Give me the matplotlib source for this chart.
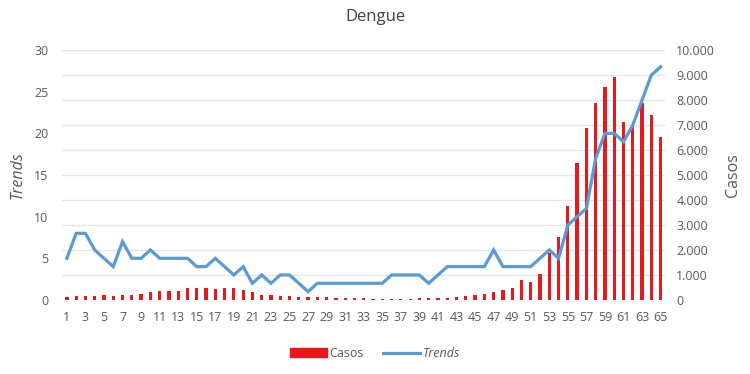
import numpy as np
import matplotlib.pyplot as plt
from matplotlib.ticker import FuncFormatter
from matplotlib.patches import Patch
from matplotlib.lines import Line2D

plt.rcParams['font.family'] = ['Open Sans', 'DejaVu Sans']

# weeks 1..65
semanas = np.arange(1, 66)

# Casos (right axis)
casos = [133, 160, 173, 173, 200, 173, 200, 213, 240, 333,
         360, 360, 360, 467, 467, 493, 440, 493, 493, 400,
         310, 200, 200, 173, 147, 120, 107, 107, 107, 93,
         93, 67, 67, 53, 40, 40, 53, 53, 67, 67,
         67, 93, 107, 160, 187, 235, 333, 400, 490, 800,
         730, 1040, 1890, 2500, 3760, 5490, 6890, 7890, 8530, 8930,
         7130, 7000, 7890, 7400, 6530]

# Trends (left axis)
trends = [5, 8, 8, 6, 5, 4, 7, 5, 5, 6,
          5, 5, 5, 5, 4, 4, 5, 4, 3, 4,
          2, 3, 2, 3, 3, 2, 1, 2, 2, 2,
          2, 2, 2, 2, 2, 3, 3, 3, 3, 2,
          3, 4, 4, 4, 4, 4, 6, 4, 4, 4,
          4, 5, 6, 5, 9, 10, 11, 17, 20, 20,
          19, 21, 24, 27, 28]

red = '#E8191C'
blue = '#5B9BD5'
txt = '#595959'

fig = plt.figure(figsize=(7.5, 3.74), dpi=100)
ax = fig.add_axes([0.083, 0.198, 0.804, 0.668])
ax2 = ax.twinx()

# bars on the "Casos" scale, ticks shown on the right
ax.bar(semanas, casos, width=0.35, color=red, zorder=2)
ax.set_ylim(0, 10000)
ax.set_xlim(0.5, 65.5)
ax.set_yticks(np.arange(0, 10001, 1000))
ax.yaxis.set_major_formatter(FuncFormatter(lambda v, p: f'{int(v):,}'.replace(',', '.')))
ax.grid(axis='y', color='#E4E6EE', linewidth=1, zorder=0)
ax.set_axisbelow(True)
ax.set_xticks(semanas[::2])
ax.tick_params(length=0, labelsize=9, colors=txt)
ax.tick_params(axis='x', pad=8)
ax.tick_params(axis='y', pad=8)
ax.yaxis.tick_right()
ax.yaxis.set_label_position('right')
ax.set_ylabel('Casos', fontsize=11.5, color=txt, labelpad=7)
for s in ax.spines.values():
    s.set_visible(False)

# line on the "Trends" scale, ticks on the left
ax2.plot(semanas, trends, color=blue, linewidth=2.3, solid_joinstyle='miter')
ax2.set_ylim(0, 30)
ax2.set_yticks(np.arange(0, 31, 5))
ax2.tick_params(length=0, labelsize=9, colors=txt)
ax2.tick_params(axis='y', pad=10)
ax2.yaxis.tick_left()
ax2.yaxis.set_label_position('left')
ax2.set_ylabel('Trends', fontsize=11.5, color=txt, style='italic', labelpad=6)
for s in ax2.spines.values():
    s.set_visible(False)

fig.suptitle('Dengue', y=0.975, fontsize=12, color='#404040')

handles = [Patch(color=red), Line2D([0], [0], color=blue, linewidth=2.3)]
leg = fig.legend(handles, ['Casos', 'Trends'], loc='center', bbox_to_anchor=(0.5, 0.055),
                 ncol=2, frameon=False, fontsize=9, handlelength=3, columnspacing=1.5,
                 handletextpad=0.2)
for t in leg.get_texts():
    t.set_color(txt)
leg.get_texts()[1].set_style('italic')

fig.savefig('out.png', dpi=100)
